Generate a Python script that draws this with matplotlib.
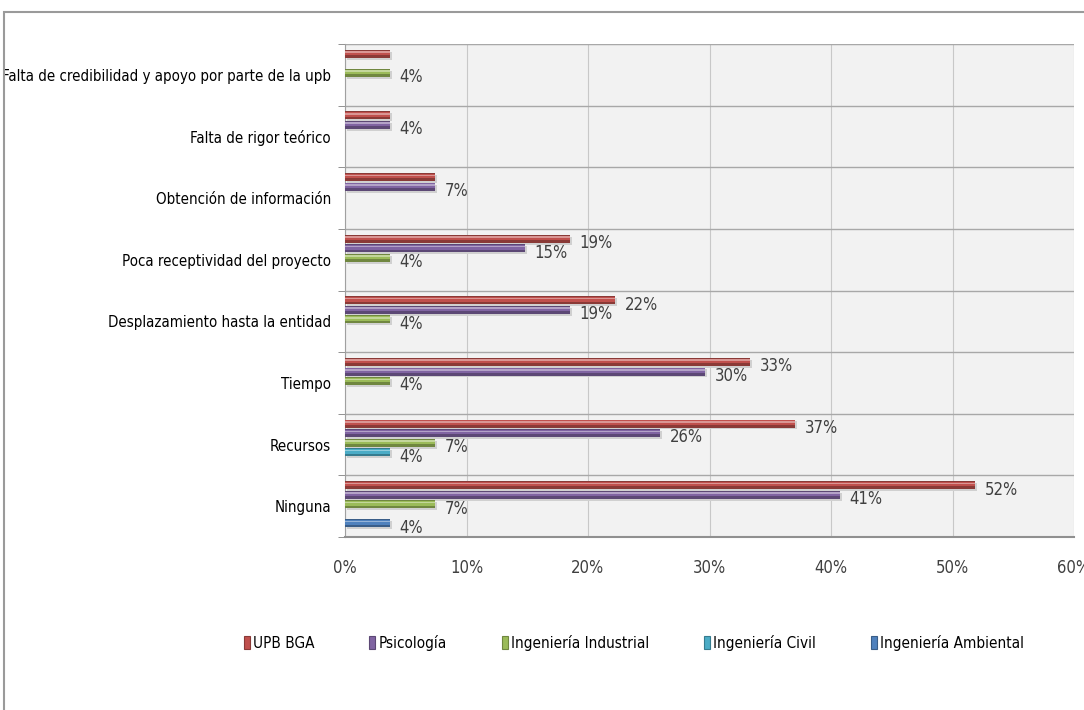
import matplotlib
matplotlib.use("Agg")
import matplotlib.pyplot as plt
from matplotlib.patches import Rectangle
import matplotlib.colors as mcolors
import numpy as np

plt.rcParams['font.family'] = ['DejaVu Sans']
plt.rcParams['font.stretch'] = 'condensed'

categorias = ["Ninguna", "Recursos", "Tiempo", "Desplazamiento hasta la entidad",
              "Poca receptividad del proyecto", "Obtención de información",
              "Falta de rigor teórico", "Falta de credibilidad y apoyo por parte de la upb"]

series = ["UPB BGA", "Psicología", "Ingeniería Industrial", "Ingeniería Civil", "Ingeniería Ambiental"]

upb_bga = [51.85, 37.04, 33.33, 22.22, 18.52, 7.41, 3.70, 3.70]
psicologia = [40.74, 25.93, 29.63, 18.52, 14.81, 7.41, 3.70, 0]
ing_industrial = [7.41, 7.41, 3.70, 3.70, 3.70, 0, 0, 3.70]
ing_civil = [0, 3.70, 0, 0, 0, 0, 0, 0]
ing_ambiental = [3.70, 0, 0, 0, 0, 0, 0, 0]

valores = [upb_bga, psicologia, ing_industrial, ing_civil, ing_ambiental]
colores = ["#c0504d", "#8064a2", "#9bbb59", "#4bacc6", "#4f81bd"]

fig = plt.figure(figsize=(10.84, 7.10), dpi=100)
ax = fig.add_axes([345/1084, 1 - 537/710, (1074 - 345)/1084, (537 - 44)/710])
ax.set_facecolor("#f2f2f2")

y = np.arange(len(categorias))
paso = 0.155
alto = 0.13

handles = []
for j, (nombre, vals, col) in enumerate(zip(series, valores, colores)):
    pos = y + (2 - j) * paso + 0.03
    oscuro = tuple(c * 0.72 for c in mcolors.to_rgb(col))
    claro = tuple(c + (1 - c) * 0.4 for c in mcolors.to_rgb(col))
    # sombra suave
    ax.barh(pos - 0.03, vals, height=alto, left=0.15, color="#d0d0d0", zorder=2)
    ax.barh(pos, vals, height=alto, color=oscuro, zorder=3)
    ax.barh(pos + alto * 0.12, vals, height=alto * 0.55, color=col, zorder=4)
    ax.barh(pos + alto * 0.22, vals, height=alto * 0.2, color=claro, zorder=5)
    handles.append(Rectangle((0, 0), 1, 1, facecolor=col, edgecolor=oscuro, linewidth=0.8))
    for i, v in enumerate(vals):
        if v == 0:
            continue
        # si una barra de mas abajo tiene el mismo valor, se muestra solo esa etiqueta
        if any(valores[k][i] == v for k in range(j + 1, len(series))):
            continue
        ax.text(v + 0.8, pos[i] - 0.07, "{:.0f}%".format(v), va="center", ha="left",
                fontsize=12, color="#404040", zorder=6)

ax.set_xlim(0, 60)
ax.set_ylim(-0.5, len(categorias) - 0.5)
ax.set_xticks(np.arange(0, 61, 10))
ax.set_xticklabels(["{}%".format(t) for t in range(0, 61, 10)], fontsize=12, color="#404040")
ax.set_yticks(y)
ax.set_yticklabels(categorias, fontsize=10.8, color="black")
ax.set_yticks(np.arange(-0.5, len(categorias)), minor=True)
ax.tick_params(axis="y", which="major", length=0, pad=10)
ax.tick_params(axis="y", which="minor", length=5, color="#808080", direction="out")
ax.tick_params(axis="x", length=0, pad=16)
ax.grid(axis="x", color="#c8c8c8", linewidth=0.8, zorder=1)
ax.grid(axis="y", which="minor", color="#a8a8a8", linewidth=1.0, zorder=1)
for s in ["top", "right"]:
    ax.spines[s].set_visible(False)
ax.spines["left"].set_color("#a0a0a0")
ax.spines["bottom"].set_color("#909090")
ax.spines["bottom"].set_linewidth(1.5)
ax.axhline(len(categorias) - 0.5, color="#a8a8a8", linewidth=1.5, zorder=2)

fig.legend(handles, series, loc="center", bbox_to_anchor=(634/1084, 1 - 643/710), ncol=5,
           frameon=False, fontsize=11, handlelength=0.4, handleheight=0.9, handletextpad=0.2,
           columnspacing=3.6)

fig.patches.append(Rectangle((4/1084, -0.1), 1.2, 1 - 12/710 + 0.1, transform=fig.transFigure,
                             fill=False, edgecolor="#9a9a9a", linewidth=1.5, zorder=0))

fig.savefig("out.png", dpi=100)
